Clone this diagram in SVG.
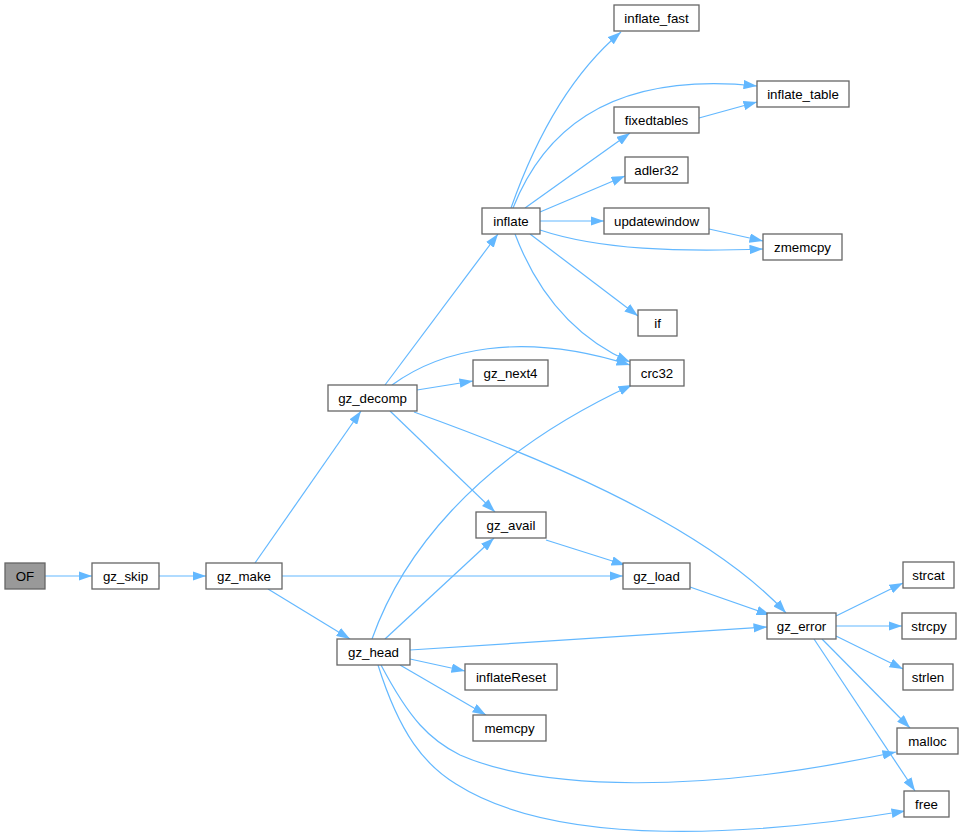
<svg xmlns="http://www.w3.org/2000/svg" width="961" height="840" viewBox="0 0 961 840">
<defs>
<style>
.n rect{fill:#fff;stroke:#666;stroke-width:1.3}
.n text{font-family:"Liberation Sans",Arial,sans-serif;font-size:13.3px;fill:#000;text-anchor:middle}
#OF rect{fill:#999}
.e path{fill:none;stroke:#63b8ff;stroke-width:1.2;marker-end:url(#ah)}
</style>
<marker id="ah" viewBox="0 0 13.5 9.5" refX="13.5" refY="4.75" markerWidth="13.5" markerHeight="9.5" markerUnits="userSpaceOnUse" orient="auto">
<path d="M0,0 L13.5,4.75 L0,9.5 z" fill="#63b8ff"/>
</marker>
</defs>
<rect width="961" height="840" fill="#fff"/>
<g class="e">
<path d="M45,576 L92,576"/>
<path d="M159,576 L206,576"/>
<path d="M255,563 L361,411"/>
<path d="M282,576 L623,576"/>
<path d="M268,589 L350,639"/>
<path d="M385,385 L498,234"/>
<path d="M392,385 C440,350 520,330 630,365"/>
<path d="M417,390 L473,381"/>
<path d="M390,411 L495,512"/>
<path d="M414,412 C520,450 700,520 786,613"/>
<path d="M372,639 C400,560 470,460 632,385"/>
<path d="M385,639 L494,538"/>
<path d="M410,650 L767,627"/>
<path d="M410,659 L465,671"/>
<path d="M400,665 L486,715"/>
<path d="M381,665 C410,720 430,740 460,755 C540,790 700,795 896,752"/>
<path d="M378,665 C400,735 425,765 456,784 C560,850 760,835 905,811"/>
<path d="M546,540 L625,565"/>
<path d="M690,587 L770,615"/>
<path d="M836,616 L903,583"/>
<path d="M836,626 L902,626"/>
<path d="M836,636 L903,669"/>
<path d="M822,639 L910,728"/>
<path d="M814,639 L915,791"/>
<path d="M511,208 C535,140 570,75 621,32"/>
<path d="M513,208 C540,140 600,70 757,86"/>
<path d="M525,208 L630,133"/>
<path d="M540,212 L625,176"/>
<path d="M540,221 L604,221"/>
<path d="M540,230 C600,250 680,252 763,249"/>
<path d="M530,234 L638,316"/>
<path d="M515,234 C540,300 580,340 630,362"/>
<path d="M699,118 L757,102"/>
<path d="M709,229 L763,241"/>
</g>
<g id="OF" class="n"><rect x="5" y="563" width="40" height="26"/><text x="25" y="580.5">OF</text></g>
<g id="gz_skip" class="n"><rect x="92" y="563" width="67" height="26"/><text x="125.5" y="580.5">gz_skip</text></g>
<g id="gz_make" class="n"><rect x="206" y="563" width="76" height="26"/><text x="244" y="580.5">gz_make</text></g>
<g id="gz_decomp" class="n"><rect x="328" y="385" width="89" height="26"/><text x="372.5" y="402.5">gz_decomp</text></g>
<g id="gz_head" class="n"><rect x="337" y="639" width="73" height="26"/><text x="373.5" y="656.5">gz_head</text></g>
<g id="inflate" class="n"><rect x="482" y="208" width="58" height="26"/><text x="511" y="225.5">inflate</text></g>
<g id="inflate_fast" class="n"><rect x="614" y="5" width="85" height="26"/><text x="656.5" y="22.5">inflate_fast</text></g>
<g id="inflate_table" class="n"><rect x="757" y="81" width="92" height="26"/><text x="803" y="98.5">inflate_table</text></g>
<g id="fixedtables" class="n"><rect x="614" y="107" width="85" height="26"/><text x="656.5" y="124.5">fixedtables</text></g>
<g id="adler32" class="n"><rect x="625" y="157" width="63" height="26"/><text x="656.5" y="174.5">adler32</text></g>
<g id="updatewindow" class="n"><rect x="604" y="208" width="105" height="26"/><text x="656.5" y="225.5">updatewindow</text></g>
<g id="zmemcpy" class="n"><rect x="763" y="234" width="79" height="26"/><text x="802.5" y="251.5">zmemcpy</text></g>
<g id="if" class="n"><rect x="638" y="310" width="39" height="26"/><text x="657.5" y="327.5">if</text></g>
<g id="crc32" class="n"><rect x="630" y="360" width="54" height="26"/><text x="657" y="377.5">crc32</text></g>
<g id="gz_next4" class="n"><rect x="473" y="360" width="75" height="26"/><text x="510.5" y="377.5">gz_next4</text></g>
<g id="gz_avail" class="n"><rect x="476" y="512" width="70" height="26"/><text x="511" y="529.5">gz_avail</text></g>
<g id="gz_load" class="n"><rect x="623" y="563" width="67" height="26"/><text x="656.5" y="580.5">gz_load</text></g>
<g id="gz_error" class="n"><rect x="767" y="613" width="69" height="26"/><text x="801.5" y="630.5">gz_error</text></g>
<g id="strcat" class="n"><rect x="903" y="562" width="51" height="26"/><text x="928.5" y="579.5">strcat</text></g>
<g id="strcpy" class="n"><rect x="902" y="613" width="54" height="26"/><text x="929" y="630.5">strcpy</text></g>
<g id="strlen" class="n"><rect x="903" y="664" width="50" height="26"/><text x="928" y="681.5">strlen</text></g>
<g id="malloc" class="n"><rect x="897" y="728" width="61" height="26"/><text x="927.5" y="745.5">malloc</text></g>
<g id="free" class="n"><rect x="904" y="791" width="45" height="26"/><text x="926.5" y="808.5">free</text></g>
<g id="inflateReset" class="n"><rect x="465" y="664" width="92" height="26"/><text x="511" y="681.5">inflateReset</text></g>
<g id="memcpy" class="n"><rect x="473" y="715" width="73" height="26"/><text x="509.5" y="732.5">memcpy</text></g>
</svg>
